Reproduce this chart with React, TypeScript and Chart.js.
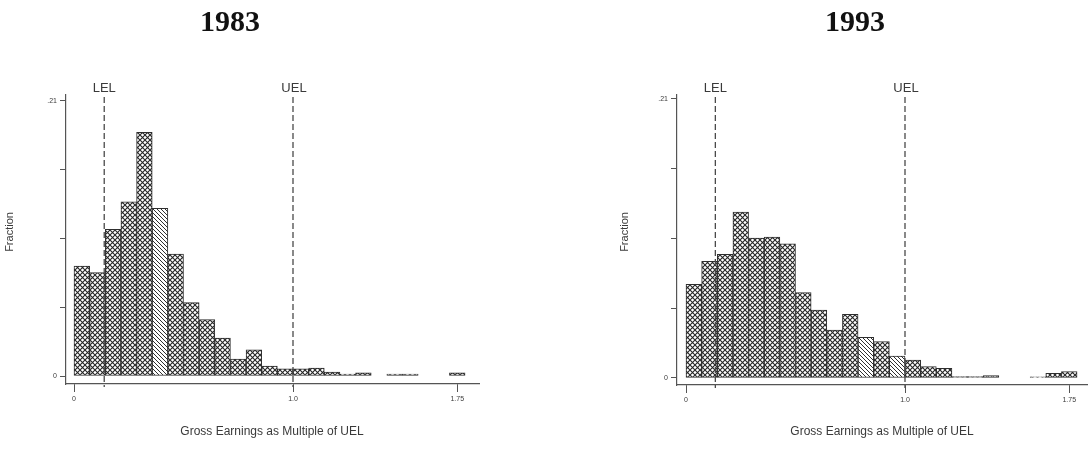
import { useEffect, useRef } from 'react';
import { Chart, registerables } from 'chart.js';

Chart.register(...registerables);

// Earnings bins are 1/14 of the UEL wide; 25 bins in each panel.
const BIN_WIDTH = 1 / 14;
const binCentres: number[] = Array.from({ length: 25 }, (_, i) => (i + 0.5) * BIN_WIDTH);

// Fraction of employees per earnings bin (null = empty bin)
const fraction1983: (number | null)[] = [
  0.084, 0.079, 0.112, 0.133, 0.186, 0.128, 0.093, 0.056, 0.043, 0.029,
  0.013, 0.020, 0.0076, 0.0055, 0.0055, 0.006, 0.003, 0.0015, 0.0025, null,
  0.0015, 0.0015, null, null, 0.0025,
];
const fraction1993: (number | null)[] = [
  0.0705, 0.0878, 0.093, 0.1248, 0.1053, 0.106, 0.101, 0.0643, 0.051, 0.036,
  0.0478, 0.0305, 0.0273, 0.0165, 0.0135, 0.0085, 0.0073, 0.001, 0.001, 0.0018,
  null, null, 0.0008, 0.0035, 0.0048,
];

// Bins drawn with the diagonal hatch instead of the cross-hatch
const hatched1983: number[] = [5];
const hatched1993: number[] = [11, 13];

// Lower earnings limit, as a multiple of the UEL
const lel1983 = 0.138;
const lel1993 = 0.134;
const uel = 1.0;

const xTickValues: number[] = [0, 1.0, 1.75];
const xTickLabels: string[] = ['0', '1.0', '1.75'];
const yTickValues: number[] = [0, 0.0525, 0.105, 0.1575, 0.21];
const yTickLabels: string[] = ['0', '', '', '', '.21'];

const SANS = "'Liberation Sans', Arial, sans-serif";
const SERIF = "'Liberation Serif', 'Times New Roman', serif";
const INK = '#3a3a3a';

function crossHatch(): CanvasPattern {
  const s = 5;
  const c = document.createElement('canvas');
  c.width = s;
  c.height = s;
  const g = c.getContext('2d')!;
  g.fillStyle = '#ffffff';
  g.fillRect(0, 0, s, s);
  g.strokeStyle = '#262626';
  g.lineWidth = 1.1;
  g.beginPath();
  g.moveTo(-1, -1);
  g.lineTo(s + 1, s + 1);
  g.moveTo(s + 1, -1);
  g.lineTo(-1, s + 1);
  g.stroke();
  return g.createPattern(c, 'repeat')!;
}

function diagonalHatch(): CanvasPattern {
  const s = 4;
  const c = document.createElement('canvas');
  c.width = s;
  c.height = s;
  const g = c.getContext('2d')!;
  g.fillStyle = '#ffffff';
  g.fillRect(0, 0, s, s);
  g.strokeStyle = '#303030';
  g.lineWidth = 1;
  g.beginPath();
  for (const k of [-1, 0, 1]) {
    g.moveTo(k * s - 1, -1);
    g.lineTo(k * s + s + 1, s + 1);
  }
  g.stroke();
  return g.createPattern(c, 'repeat')!;
}

type PanelProps = {
  year: string;
  values: (number | null)[];
  hatched: number[];
  lel: number;
  offsetX: number;
  areaLeft: number;
  areaRight: number;
  areaTop: number;
  areaBottom: number;
  xMin: number;
  xMax: number;
  yMin: number;
  yMax: number;
  titleX: number;
  fractionX: number;
  xTitleX: number;
};

const W = 545;
const H = 455;

const panelText = {
  id: 'panelText',
  afterDatasetsDraw(chart: any, _args: any, opts: any) {
    const { ctx, chartArea, scales } = chart;
    ctx.save();
    ctx.strokeStyle = '#4a4a4a';
    ctx.lineWidth = 1.3;
    ctx.setLineDash([6, 3]);
    for (const v of [opts.lel, opts.uel]) {
      const x = scales.x.getPixelForValue(v);
      ctx.beginPath();
      ctx.moveTo(x, chartArea.top + 2);
      ctx.lineTo(x, chartArea.bottom + 3);
      ctx.stroke();
    }
    ctx.restore();
  },
  afterDraw(chart: any, _args: any, opts: any) {
    const { ctx, scales } = chart;
    ctx.save();
    ctx.textAlign = 'center';
    ctx.textBaseline = 'middle';

    ctx.fillStyle = '#111111';
    ctx.font = `bold 30px ${SERIF}`;
    ctx.fillText(opts.title, opts.titleX, 23);

    ctx.fillStyle = INK;
    ctx.font = `13px ${SANS}`;
    ctx.fillText('LEL', scales.x.getPixelForValue(opts.lel), 88);
    ctx.fillText('UEL', scales.x.getPixelForValue(opts.uel) + 1, 88);

    ctx.font = `12px ${SANS}`;
    ctx.fillText('Gross Earnings as Multiple of UEL', opts.xTitleX, 432);

    ctx.translate(opts.fractionX, 232);
    ctx.rotate(-Math.PI / 2);
    ctx.font = `11px ${SANS}`;
    ctx.fillText('Fraction', 0, 0);
    ctx.restore();
  },
};

function HistogramPanel(p: PanelProps) {
  const ref = useRef<HTMLCanvasElement | null>(null);

  useEffect(() => {
    const canvas = ref.current;
    if (!canvas) return;
    const cross = crossHatch();
    const diag = diagonalHatch();
    const fills = p.values.map((_, i) => (p.hatched.includes(i) ? diag : cross));

    const chart = new Chart(canvas, {
      type: 'bar',
      data: {
        datasets: [
          {
            data: binCentres.map((x, i) => ({ x, y: p.values[i] })) as any,
            backgroundColor: fills as any,
            borderColor: '#2e2e2e',
            borderWidth: 1,
            borderSkipped: false,
            barPercentage: 1,
            categoryPercentage: 1,
          },
        ],
      },
      options: {
        animation: false,
        responsive: false,
        maintainAspectRatio: false,
        events: [],
        layout: {
          padding: { left: 0, right: W - p.areaRight, top: p.areaTop, bottom: 0 },
        },
        plugins: {
          legend: { display: false },
          tooltip: { enabled: false },
          title: { display: false },
          panelText: {
            title: p.year,
            titleX: p.titleX,
            lel: p.lel,
            uel,
            fractionX: p.fractionX,
            xTitleX: p.xTitleX,
          },
        } as any,
        scales: {
          x: {
            type: 'linear',
            min: p.xMin,
            max: p.xMax,
            offset: false,
            afterFit: (s: any) => {
              s.height = H - p.areaBottom;
            },
            afterBuildTicks: (s: any) => {
              s.ticks = xTickValues.map((value) => ({ value }));
            },
            ticks: {
              autoSkip: false,
              maxRotation: 0,
              padding: 3,
              color: INK,
              font: { family: SANS, size: 7 },
              callback: (_v: any, i: number) => xTickLabels[i],
            },
            grid: { offset: false, drawOnChartArea: false, tickLength: 8, color: '#555', lineWidth: 1 },
            border: { display: true, color: '#555', width: 1.2 },
          },
          y: {
            type: 'linear',
            min: p.yMin,
            max: p.yMax,
            afterFit: (s: any) => {
              s.width = p.areaLeft;
            },
            afterBuildTicks: (s: any) => {
              s.ticks = yTickValues.map((value) => ({ value }));
            },
            ticks: {
              autoSkip: false,
              padding: 3,
              color: INK,
              font: { family: SANS, size: 7 },
              callback: (_v: any, i: number) => yTickLabels[i],
            },
            grid: { drawOnChartArea: false, tickLength: 6, color: '#555', lineWidth: 1 },
            border: { display: true, color: '#555', width: 1.2 },
          },
        },
      },
      plugins: [panelText],
    });
    return () => chart.destroy();
  }, []);

  return (
    <canvas
      ref={ref}
      width={W}
      height={H}
      style={{ position: 'absolute', left: p.offsetX, top: 0, width: W, height: H }}
    />
  );
}

export default function App() {
  return (
    <div style={{ position: 'fixed', left: 0, top: 0, width: 1090, height: 455, background: '#fff' }}>
      <HistogramPanel
        year="1983"
        values={fraction1983}
        hatched={hatched1983}
        lel={lel1983}
        offsetX={0}
        areaLeft={66}
        areaRight={479}
        areaTop={95}
        areaBottom={384}
        xMin={-8 / 219}
        xMax={(479 - 74) / 219}
        yMin={-0.0061}
        yMax={0.2145}
        titleX={230}
        fractionX={10}
        xTitleX={272}
      />
      <HistogramPanel
        year="1993"
        values={fraction1993}
        hatched={hatched1993}
        lel={lel1993}
        offsetX={545}
        areaLeft={132}
        areaRight={542}
        areaTop={95}
        areaBottom={385}
        xMin={-9 / 219}
        xMax={(542 + 545 - 686) / 219}
        yMin={-0.0053}
        yMax={0.2129}
        titleX={310}
        fractionX={80}
        xTitleX={337}
      />
    </div>
  );
}
